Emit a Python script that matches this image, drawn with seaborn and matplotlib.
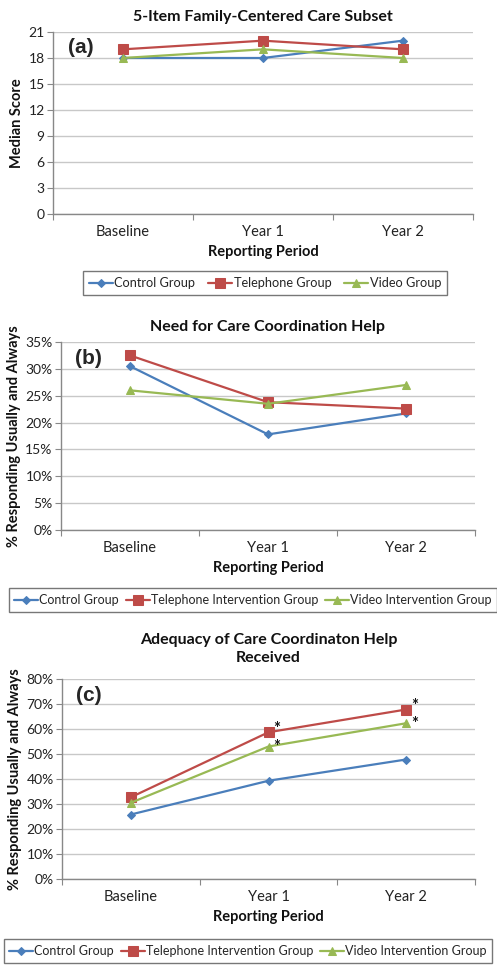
import matplotlib
matplotlib.use("Agg")
import matplotlib.pyplot as plt
import seaborn as sns
import pandas as pd
import numpy as np

periods = ["Baseline", "Year 1", "Year 2"]

# Panel (a) median scores
a_control = [18, 18, 20]
a_telephone = [19, 20, 19]
a_video = [18, 19, 18]
a_groups = ["Control Group", "Telephone Group", "Video Group"]

# Panel (b) % responding usually and always
b_control = [30.5, 17.8, 21.7]
b_telephone = [32.5, 23.8, 22.6]
b_video = [26.0, 23.5, 27.0]

# Panel (c)
c_control = [25.8, 39.3, 47.8]
c_telephone = [32.7, 58.7, 67.8]
c_video = [30.5, 53.0, 62.3]
bc_groups = ["Control Group", "Telephone Intervention Group", "Video Intervention Group"]

# significance marks (group index, period index)
c_stars = [(1, 1), (2, 1), (1, 2), (2, 2)]

sns.set_style("white")
plt.rcParams['font.family'] = ['Lato', 'DejaVu Sans']

colors = ["#4A7EBB", "#BE4B48", "#98B954"]
markers = ["D", "s", "^"]
msizes = [4.5, 6.5, 6]

fig = plt.figure(figsize=(4.97, 9.73), dpi=100)


def make_df(groups, series):
    rows = []
    for g, vals in zip(groups, series):
        for i, v in enumerate(vals):
            rows.append({"x": i, "y": v, "group": g})
    return pd.DataFrame(rows)


def draw(rect, groups, series, ymax, ystep, pct, title, ylabel, label, leg_center, leg_y,
         legfs, colsp, title_pad=8):
    ax = fig.add_axes(rect)
    df = make_df(groups, series)
    for k, g in enumerate(groups):
        sub = df[df.group == g]
        sns.lineplot(data=sub, x="x", y="y", ax=ax, color=colors[k], marker=markers[k],
                     markersize=msizes[k], markeredgecolor=colors[k], linewidth=1.6,
                     label=g, legend=False)
    ax.set_xlim(-0.5, 2.5)
    ax.set_ylim(0, ymax)
    yt = np.arange(0, ymax + 0.001, ystep)
    ax.set_yticks(yt)
    if pct:
        ax.set_yticklabels([f"{int(v)}%" for v in yt])
    else:
        ax.set_yticklabels([f"{int(v)}" for v in yt])
    ax.set_xticks([-0.5, 0.5, 1.5, 2.5])
    ax.set_xticklabels([])
    ax.set_xticks([0, 1, 2], minor=True)
    ax.set_xticklabels(periods, minor=True)
    ax.tick_params(axis="x", which="major", length=4, color="#888888", direction="out", bottom=True)
    ax.tick_params(axis="x", which="minor", length=0, pad=8, labelsize=10.5, colors="#222222")
    ax.tick_params(axis="y", length=4, color="#888888", direction="out", left=True,
                   labelsize=10, colors="#222222", pad=2)
    ax.grid(axis="y", color="#C8C8C8", linewidth=1)
    ax.set_axisbelow(True)
    for s in ["top", "right"]:
        ax.spines[s].set_visible(False)
    for s in ["left", "bottom"]:
        ax.spines[s].set_color("#888888")
        ax.spines[s].set_linewidth(1)
    ax.set_xlabel("Reporting Period", fontweight="bold", fontsize=10.5, labelpad=4, color="#111111")
    ax.set_ylabel(ylabel, fontweight="bold", fontsize=10.5, labelpad=3, color="#111111")
    ax.set_title(title, fontweight="bold", fontsize=11.5, pad=title_pad, color="#111111",
                 linespacing=1.35)
    ax.text(0.035, 0.965, label, transform=ax.transAxes, fontsize=15, fontweight="bold",
            va="top", ha="left", family=["Liberation Sans", "DejaVu Sans"])
    handles, labels = ax.get_legend_handles_labels()
    leg = fig.legend(handles, labels, loc="center", bbox_to_anchor=(leg_center, leg_y),
                     ncol=3, frameon=True, fancybox=False, fontsize=legfs,
                     handlelength=1.9, handletextpad=0.1, columnspacing=colsp,
                     borderpad=0.45, borderaxespad=0, edgecolor="#555555")
    leg.get_frame().set_linewidth(1.0)
    return ax


W, H = 497.0, 973.0

ax_a = draw([53 / W, 1 - 214 / H, 420 / W, (214 - 32) / H], a_groups,
            [a_control, a_telephone, a_video], 21, 3, False,
            "5-Item Family-Centered Care Subset", "Median Score", "(a)",
            265 / W, 1 - 283 / H, 9.2, 1.0)

ax_b = draw([61 / W, 1 - 530 / H, 414 / W, (530 - 342) / H], bc_groups,
            [b_control, b_telephone, b_video], 35, 5, True,
            "Need for Care Coordination Help", "% Responding Usually and Always", "(b)",
            253 / W, 1 - 600 / H, 9, 0.55)

ax_c = draw([62 / W, 1 - 879 / H, 413 / W, (879 - 679) / H], bc_groups,
            [c_control, c_telephone, c_video], 80, 10, True,
            "Adequacy of Care Coordinaton Help\nReceived", "% Responding Usually and Always", "(c)",
            248 / W, 1 - 951 / H, 9, 0.55, title_pad=12)

c_series = [c_control, c_telephone, c_video]
star_dy = {1: 2.5, 2: -0.5}
for g, p in c_stars:
    ax_c.annotate("*", (p, c_series[g][p]), xytext=(6, star_dy[g]), textcoords="offset points",
                  fontsize=12, fontweight="bold", ha="center", va="center", color="#111111")

fig.savefig("out.png", dpi=100)
